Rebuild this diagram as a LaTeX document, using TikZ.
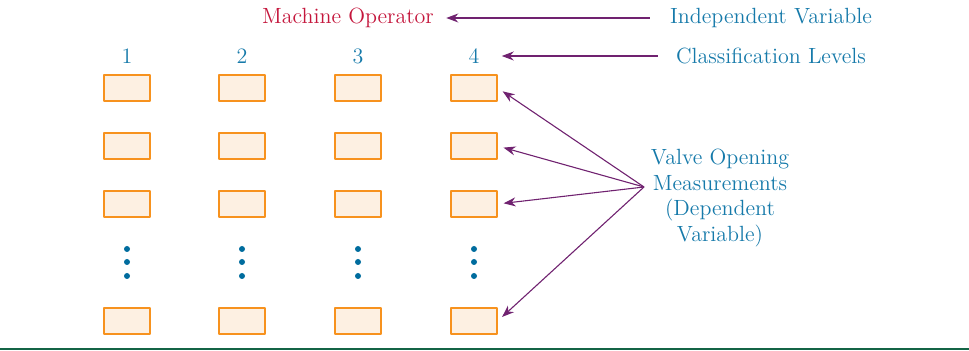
\documentclass[tikz,border=0pt]{standalone}
\usepackage{tikz}
\usetikzlibrary{arrows.meta,positioning,calc}
\definecolor{labelblue}{RGB}{22,122,170}
\definecolor{opred}{RGB}{196,22,60}
\definecolor{arrpurple}{RGB}{112,34,112}
\definecolor{boxfill}{RGB}{253,240,226}
\definecolor{boxline}{RGB}{247,146,30}
\definecolor{dotblue}{RGB}{0,108,158}
\definecolor{rulegreen}{RGB}{20,100,70}

\tikzset{
  lbl/.style={font=\fontsize{11}{12.8}\selectfont,text=labelblue,inner sep=1pt},
  cell/.style={draw=boxline,fill=boxfill,line width=0.7pt,minimum width=23pt,minimum height=13pt,inner sep=0pt},
  arr/.style={arrpurple,line width=0.55pt,-{Stealth[length=6pt,width=4.5pt]}},
  vdot/.style={circle,fill=dotblue,inner sep=0pt,minimum size=3pt}
}

\begin{document}
\begin{tikzpicture}[x=0.5pt,y=-0.5pt,line join=round]
  \useasboundingbox (0,0) rectangle (969,351);
  % --- top labels ---
  \node[lbl,text=opred] (mach) at (348,18) {Machine Operator};
  \node[lbl] (indep) at (771,18) {Independent Variable};
  \node[lbl] (classif) at (771,56) {Classification Levels};
  % --- columns: number, three boxes, dots, last box ---
  \foreach \c/\x in {1/127,2/242,3/358,4/474}{
    \node[lbl] (n\c) at (\x,56) {\c};
    \foreach \r/\y in {1/88,2/146,3/204,5/321}
      \node[cell] (b\c\r) at (\x,\y) {};
    \foreach \d/\y in {1/249,2/262,3/276}
      \node[vdot] (d\c\d) at (\x,\y) {};
  }
  % --- dependent variable ---
  \node[lbl,align=center] (valve) at (720,198) {Valve Opening\\Measurements\\(Dependent\\Variable)};
  \coordinate (fan) at (644,187);
  % arrows
  \draw[arr] ([xshift=-9pt]indep.west) -- ([xshift=5pt]mach.east);
  \draw[arr] ([xshift=-8pt]classif.west) -- ([xshift=10pt]n4.east);
  \foreach \r in {1,2,3,5}
    \draw[arr,shorten >=3pt] (fan) -- (b4\r.east);
  % --- bottom rule ---
  \draw[rulegreen,line width=1pt] (0,349) -- (969,349);
\end{tikzpicture}
\end{document}
